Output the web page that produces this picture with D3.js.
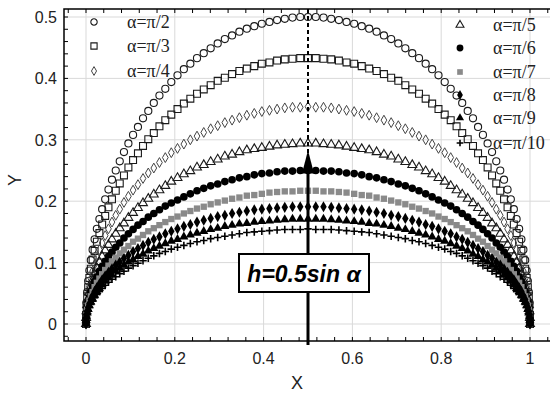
<!DOCTYPE html>
<html>
<head>
<meta charset="utf-8">
<script src="https://cdnjs.cloudflare.com/ajax/libs/d3/7.8.5/d3.min.js"></script>
<style>
  body { margin: 0; background: #fff; }
  svg { display: block; }
</style>
</head>
<body>
<div id="chart"></div>
<script>
// sample positions along X, shared by every series
const xs = [0,0.0003,0.0012,0.0027,0.0049,0.0076,0.0109,0.0149,0.0194,0.0245,0.0302,0.0364,0.0432,0.0506,0.0585,0.0670,0.0760,0.0855,0.0955,0.1060,0.1170,0.1284,0.1403,0.1527,0.1654,0.1786,0.1921,0.2061,0.2204,0.2350,0.2500,0.2652,0.2808,0.2966,0.3127,0.3290,0.3455,0.3622,0.3790,0.3960,0.4132,0.4304,0.4477,0.4651,0.4825,0.5,
  0.5175,0.5349,0.5523,0.5696,0.5868,0.6040,0.6210,0.6378,0.6545,0.6710,0.6873,0.7034,0.7192,0.7348,0.7500,0.7650,0.7796,0.7939,0.8079,0.8214,0.8346,0.8473,0.8597,0.8716,0.8830,0.8940,0.9045,0.9145,0.9240,0.9330,0.9415,0.9494,0.9568,0.9636,0.9698,0.9755,0.9806,0.9851,0.9891,0.9924,0.9951,0.9973,0.9988,0.9997,1];

const yPi2 = [0,.017,.035,.052,.070,.087,.104,.121,.138,.155,.171,.187,.203,.219,.235,.250,.265,.280,.294,.308,.321,.335,.347,.360,.372,.383,.394,.405,.415,.424,.433,.441,.449,.457,.464,.470,.476,.481,.485,.489,.492,.495,.497,.499,.500,.500,
  .500,.499,.497,.495,.492,.489,.485,.481,.476,.470,.464,.457,.449,.441,.433,.424,.415,.405,.394,.383,.372,.360,.347,.335,.321,.308,.294,.280,.265,.250,.235,.219,.203,.187,.171,.155,.138,.121,.104,.087,.070,.052,.035,.017,0];
const yPi3 = [0,.015,.030,.045,.060,.075,.090,.105,.119,.134,.148,.162,.176,.190,.203,.217,.229,.242,.255,.267,.278,.290,.301,.311,.322,.332,.341,.350,.359,.367,.375,.382,.389,.396,.401,.407,.412,.416,.420,.424,.426,.429,.431,.432,.433,.433,
  .433,.432,.431,.429,.426,.424,.420,.416,.412,.407,.401,.396,.389,.382,.375,.367,.359,.350,.341,.332,.322,.311,.301,.290,.278,.267,.255,.242,.229,.217,.203,.190,.176,.162,.148,.134,.119,.105,.090,.075,.060,.045,.030,.015,0];
const yPi4 = [0,.012,.025,.037,.049,.061,.074,.086,.097,.109,.121,.132,.144,.155,.166,.177,.187,.198,.208,.218,.227,.237,.246,.254,.263,.271,.279,.286,.293,.300,.306,.312,.318,.323,.328,.332,.336,.340,.343,.346,.348,.350,.352,.353,.353,.354,
  .353,.353,.352,.350,.348,.346,.343,.340,.336,.332,.328,.323,.318,.312,.306,.300,.293,.286,.279,.271,.263,.254,.246,.237,.227,.218,.208,.198,.187,.177,.166,.155,.144,.132,.121,.109,.097,.086,.074,.061,.049,.037,.025,.012,0];
const yPi5 = [0,.010,.021,.031,.041,.051,.061,.071,.081,.091,.101,.110,.120,.129,.138,.147,.156,.164,.173,.181,.189,.197,.204,.211,.218,.225,.232,.238,.244,.249,.255,.259,.264,.268,.273,.276,.280,.283,.285,.287,.289,.291,.292,.293,.294,.294,
  .294,.293,.292,.291,.289,.287,.285,.283,.280,.276,.273,.268,.264,.259,.255,.249,.244,.238,.232,.225,.218,.211,.204,.197,.189,.181,.173,.164,.156,.147,.138,.129,.120,.110,.101,.091,.081,.071,.061,.051,.041,.031,.021,.010,0];
const yPi6 = [0,.009,.017,.026,.035,.043,.052,.060,.069,.077,.086,.094,.102,.110,.117,.125,.132,.140,.147,.154,.161,.167,.174,.180,.186,.192,.197,.202,.207,.212,.217,.221,.225,.228,.232,.235,.238,.240,.243,.245,.246,.248,.249,.249,.250,.250,
  .250,.249,.249,.248,.246,.245,.243,.240,.238,.235,.232,.228,.225,.221,.217,.212,.207,.202,.197,.192,.186,.180,.174,.167,.161,.154,.147,.140,.132,.125,.117,.110,.102,.094,.086,.077,.069,.060,.052,.043,.035,.026,.017,.009,0];
const yPi7 = [0,.008,.015,.023,.030,.038,.045,.052,.060,.067,.074,.081,.088,.095,.102,.108,.115,.121,.127,.134,.139,.145,.151,.156,.161,.166,.171,.175,.180,.184,.188,.191,.195,.198,.201,.204,.206,.209,.210,.212,.214,.215,.216,.216,.217,.217,
  .217,.216,.216,.215,.214,.212,.210,.209,.206,.204,.201,.198,.195,.191,.188,.184,.180,.175,.171,.166,.161,.156,.151,.145,.139,.134,.127,.121,.115,.108,.102,.095,.088,.081,.074,.067,.060,.052,.045,.038,.030,.023,.015,.008,0];
const yPi8 = [0,.007,.013,.020,.027,.033,.040,.046,.053,.059,.065,.072,.078,.084,.090,.096,.101,.107,.112,.118,.123,.128,.133,.138,.142,.147,.151,.155,.159,.162,.166,.169,.172,.175,.177,.180,.182,.184,.186,.187,.188,.189,.190,.191,.191,.191,
  .191,.191,.190,.189,.188,.187,.186,.184,.182,.180,.177,.175,.172,.169,.166,.162,.159,.155,.151,.147,.142,.138,.133,.128,.123,.118,.112,.107,.101,.096,.090,.084,.078,.072,.065,.059,.053,.046,.040,.033,.027,.020,.013,.007,0];
const yPi9 = [0,.006,.012,.018,.024,.030,.036,.041,.047,.053,.058,.064,.070,.075,.080,.086,.091,.096,.101,.105,.110,.114,.119,.123,.127,.131,.135,.138,.142,.145,.148,.151,.154,.156,.159,.161,.163,.164,.166,.167,.168,.169,.170,.171,.171,.171,
  .171,.171,.170,.169,.168,.167,.166,.164,.163,.161,.159,.156,.154,.151,.148,.145,.142,.138,.135,.131,.127,.123,.119,.114,.110,.105,.101,.096,.091,.086,.080,.075,.070,.064,.058,.053,.047,.041,.036,.030,.024,.018,.012,.006,0];
const yPi10 = [0,.005,.011,.016,.022,.027,.032,.037,.043,.048,.053,.058,.063,.068,.073,.077,.082,.086,.091,.095,.099,.103,.107,.111,.115,.118,.122,.125,.128,.131,.134,.136,.139,.141,.143,.145,.147,.149,.150,.151,.152,.153,.154,.154,.154,.155,
  .154,.154,.154,.153,.152,.151,.150,.149,.147,.145,.143,.141,.139,.136,.134,.131,.128,.125,.122,.118,.115,.111,.107,.103,.099,.095,.091,.086,.082,.077,.073,.068,.063,.058,.053,.048,.043,.037,.032,.027,.022,.016,.011,.005,0];

const seriesY = [yPi2, yPi3, yPi4, yPi5, yPi6, yPi7, yPi8, yPi9, yPi10];
const seriesLabels = ["α=π/2","α=π/3","α=π/4","α=π/5","α=π/6","α=π/7","α=π/8","α=π/9","α=π/10"];
const xTicks = [0, 0.2, 0.4, 0.6, 0.8, 1];
const yTicks = [0, 0.1, 0.2, 0.3, 0.4, 0.5];

const width = 550, height = 393;
const frameL = 64, frameT = 9, frameB = 341, frameR = 552;

const x = d3.scaleLinear().domain([0, 1]).range([86, 530]);
const y = d3.scaleLinear().domain([0, 0.5]).range([324, 17]);

// plus marker, d3.symbolCross is too fat
const plus = {
  draw(ctx, size) {
    const r = Math.sqrt(size) / 2;
    ctx.moveTo(-r, 0); ctx.lineTo(r, 0);
    ctx.moveTo(0, -r); ctx.lineTo(0, r);
  }
};

const styles = [
  {type: d3.symbolCircle,   size: 40, fill: "none",    stroke: "#1a1a1a", sw: 1.1},
  {type: d3.symbolSquare,   size: 48, fill: "none",    stroke: "#1a1a1a", sw: 1.1},
  {type: d3.symbolDiamond,  size: 28, fill: "none",    stroke: "#444",    sw: 1},
  {type: d3.symbolTriangle, size: 34, fill: "none",    stroke: "#1a1a1a", sw: 1.1},
  {type: d3.symbolCircle,   size: 46, fill: "#000",    stroke: "none",    sw: 0},
  {type: d3.symbolSquare,   size: 40, fill: "#8a8a8a", stroke: "none",    sw: 0},
  {type: d3.symbolDiamond,  size: 36, fill: "#000",    stroke: "none",    sw: 0},
  {type: d3.symbolTriangle, size: 36, fill: "#000",    stroke: "none",    sw: 0},
  {type: plus,              size: 56, fill: "none",    stroke: "#000",    sw: 1.6}
];

const svg = d3.select("#chart").append("svg")
  .attr("width", width)
  .attr("height", height)
  .style("font-family", "'Liberation Sans', Arial, sans-serif");

// grid
const grid = svg.append("g").attr("stroke", "#d9d9d9").attr("stroke-width", 1);
grid.selectAll(".gx").data(xTicks).join("line")
  .attr("x1", d => x(d)).attr("x2", d => x(d))
  .attr("y1", frameT).attr("y2", frameB);
grid.selectAll(".gy").data(yTicks).join("line")
  .attr("x1", frameL).attr("x2", frameR)
  .attr("y1", d => y(d)).attr("y2", d => y(d));

// the curves
const marks = svg.append("g");
seriesY.forEach((ys, i) => {
  const st = styles[i];
  const sym = d3.symbol().type(st.type).size(st.size);
  marks.append("g")
    .selectAll("path")
    .data(xs.map((xv, j) => [xv, ys[j]]))
    .join("path")
    .attr("transform", d => `translate(${x(d[0])},${y(d[1])})`)
    .attr("d", sym)
    .attr("fill", st.fill)
    .attr("stroke", st.stroke)
    .attr("stroke-width", st.sw);
});

// frame
svg.append("path")
  .attr("d", `M${frameR},${frameT}H${frameL}V${frameB}H${frameR}`)
  .attr("fill", "none").attr("stroke", "#000").attr("stroke-width", 1.5);

// inward ticks
const xMinor = d3.range(-0.04, 1.041, 0.04);
const yMinor = d3.range(-0.02, 0.5001, 0.02);
const tickG = svg.append("g").attr("stroke", "#000").attr("stroke-width", 1);
tickG.selectAll(".tb").data(xMinor).join("line")
  .attr("x1", d => x(d)).attr("x2", d => x(d))
  .attr("y1", frameB).attr("y2", frameB - 4);
tickG.selectAll(".tt").data(xMinor).join("line")
  .attr("x1", d => x(d)).attr("x2", d => x(d))
  .attr("y1", frameT).attr("y2", frameT + 4);
tickG.selectAll(".tl").data(yMinor).join("line")
  .attr("x1", frameL).attr("x2", frameL + 4)
  .attr("y1", d => y(d)).attr("y2", d => y(d));

// tick labels
svg.append("g").selectAll("text").data(xTicks).join("text")
  .attr("x", d => x(d)).attr("y", 364)
  .attr("text-anchor", "middle")
  .attr("font-size", 16).attr("fill", "#222")
  .text(d => String(d));
svg.append("g").selectAll("text").data(yTicks).join("text")
  .attr("x", 57).attr("y", d => y(d) + 6)
  .attr("text-anchor", "end")
  .attr("font-size", 16).attr("fill", "#222")
  .text(d => String(d));

svg.append("text").attr("x", 297).attr("y", 389)
  .attr("text-anchor", "middle").attr("font-size", 18).attr("fill", "#222").text("X");
svg.append("text").attr("transform", "translate(21,180) rotate(-90)")
  .attr("text-anchor", "middle").attr("font-size", 18).attr("fill", "#222").text("Y");

// dashed guide at X = 0.5 and the arrow
svg.append("line")
  .attr("x1", x(0.5)).attr("x2", x(0.5))
  .attr("y1", frameT).attr("y2", y(0.27))
  .attr("stroke", "#000").attr("stroke-width", 2).attr("stroke-dasharray", "4,3");
svg.append("line")
  .attr("x1", x(0.5)).attr("x2", x(0.5))
  .attr("y1", frameB + 4).attr("y2", y(0.25))
  .attr("stroke", "#000").attr("stroke-width", 3);
svg.append("path")
  .attr("d", `M${x(0.5)},${y(0.283)}L${x(0.5) - 6},${y(0.245)}L${x(0.5) + 6},${y(0.245)}Z`)
  .attr("fill", "#000");

// annotation box
svg.append("rect")
  .attr("x", 239).attr("y", 254).attr("width", 130).attr("height", 38)
  .attr("fill", "#fff").attr("stroke", "#000").attr("stroke-width", 2);
svg.append("text")
  .attr("x", 304).attr("y", 282)
  .attr("text-anchor", "middle")
  .attr("font-size", 23).attr("font-weight", "bold").attr("font-style", "italic")
  .attr("fill", "#000")
  .text("h=0.5sin α");

// legends
const legendPos = [
  [94, 22], [94, 46], [94, 71],
  [460, 25], [460, 48], [460, 72], [460, 95], [460, 118], [460, 143]
];
legendPos.forEach((p, i) => {
  const st = styles[i];
  svg.append("path")
    .attr("transform", `translate(${p[0]},${p[1]})`)
    .attr("d", d3.symbol().type(st.type).size(st.size * 0.8)())
    .attr("fill", st.fill)
    .attr("stroke", st.stroke)
    .attr("stroke-width", st.sw);
  svg.append("text")
    .attr("x", p[0] + 33).attr("y", p[1] + 6)
    .attr("font-family", "'Liberation Serif', 'Times New Roman', serif")
    .attr("font-size", 18).attr("fill", "#222")
    .text(seriesLabels[i]);
});
</script>
</body>
</html>
